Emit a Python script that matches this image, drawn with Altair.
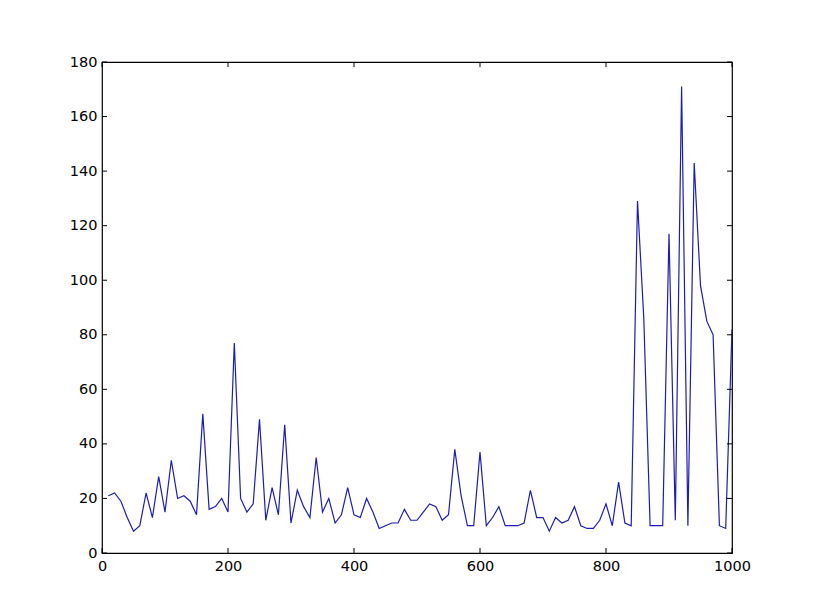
import altair as alt
import pandas as pd

# ---- data ----
x_vals = list(range(10, 1001, 10))
y_vals = [
    21, 22, 19, 13, 8, 10, 22, 13, 28, 15,
    34, 20, 21, 19, 14, 51, 16, 17, 20, 15,
    77, 20, 15, 18, 49, 12, 24, 14, 47, 11,
    23, 17, 13, 35, 15, 20, 11, 14, 24, 14,
    13, 20, 15, 9, 10, 11, 11, 16, 12, 12,
    15, 18, 17, 12, 14, 38, 21, 10, 10, 37,
    10, 13, 17, 10, 10, 10, 11, 23, 13, 13,
    8, 13, 11, 12, 17, 10, 9, 9, 12, 18,
    10, 26, 11, 10, 129, 86, 10, 10, 10, 117,
    12, 171, 10, 143, 98, 85, 80, 10, 9, 82,
]
x_ticks = [0, 200, 400, 600, 800, 1000]
y_ticks = [0, 20, 40, 60, 80, 100, 120, 140, 160, 180]

W, H = 630, 491
TICK = 5
FONT = "DejaVu Sans"

df = pd.DataFrame({"x": x_vals, "y": y_vals})
xt = pd.DataFrame({"t": x_ticks})
yt = pd.DataFrame({"t": y_ticks})

xscale = alt.Scale(domain=[0, 1000], nice=False, zero=False)
yscale = alt.Scale(domain=[0, 180], nice=False, zero=False)

line = alt.Chart(df).mark_line(color="#1c1cb8", strokeWidth=1.2, clip=True).encode(
    x=alt.X("x:Q", scale=xscale,
            axis=alt.Axis(title=None, values=x_ticks, format="d", ticks=False, domain=False,
                          grid=False, labelFont=FONT, labelFontSize=14.5, labelColor="black",
                          labelPadding=6, labelFlush=False)),
    y=alt.Y("y:Q", scale=yscale,
            axis=alt.Axis(title=None, values=y_ticks, format="d", ticks=False, domain=False,
                          grid=False, labelFont=FONT, labelFontSize=14.5, labelColor="black",
                          labelPadding=5, labelFlush=False)),
)

bottom = alt.Chart(xt).mark_rule(color="black", strokeWidth=1).encode(
    x=alt.X("t:Q", scale=xscale), y=alt.value(H), y2=alt.value(H - TICK))
top = alt.Chart(xt).mark_rule(color="black", strokeWidth=1).encode(
    x=alt.X("t:Q", scale=xscale), y=alt.value(0), y2=alt.value(TICK))
left = alt.Chart(yt).mark_rule(color="black", strokeWidth=1).encode(
    y=alt.Y("t:Q", scale=yscale), x=alt.value(0), x2=alt.value(TICK))
right = alt.Chart(yt).mark_rule(color="black", strokeWidth=1).encode(
    y=alt.Y("t:Q", scale=yscale), x=alt.value(W), x2=alt.value(W - TICK))

chart = alt.layer(line, bottom, top, left, right).properties(
    width=W, height=H,
    background="white",
    padding={"left": 94, "top": 54, "right": 60, "bottom": 50},
    autosize=alt.AutoSizeParams(type="none"),
).configure_view(stroke="black", strokeWidth=1.2, strokeOpacity=1)

chart.save("out.html", embed_options={"renderer": "svg", "actions": False})
